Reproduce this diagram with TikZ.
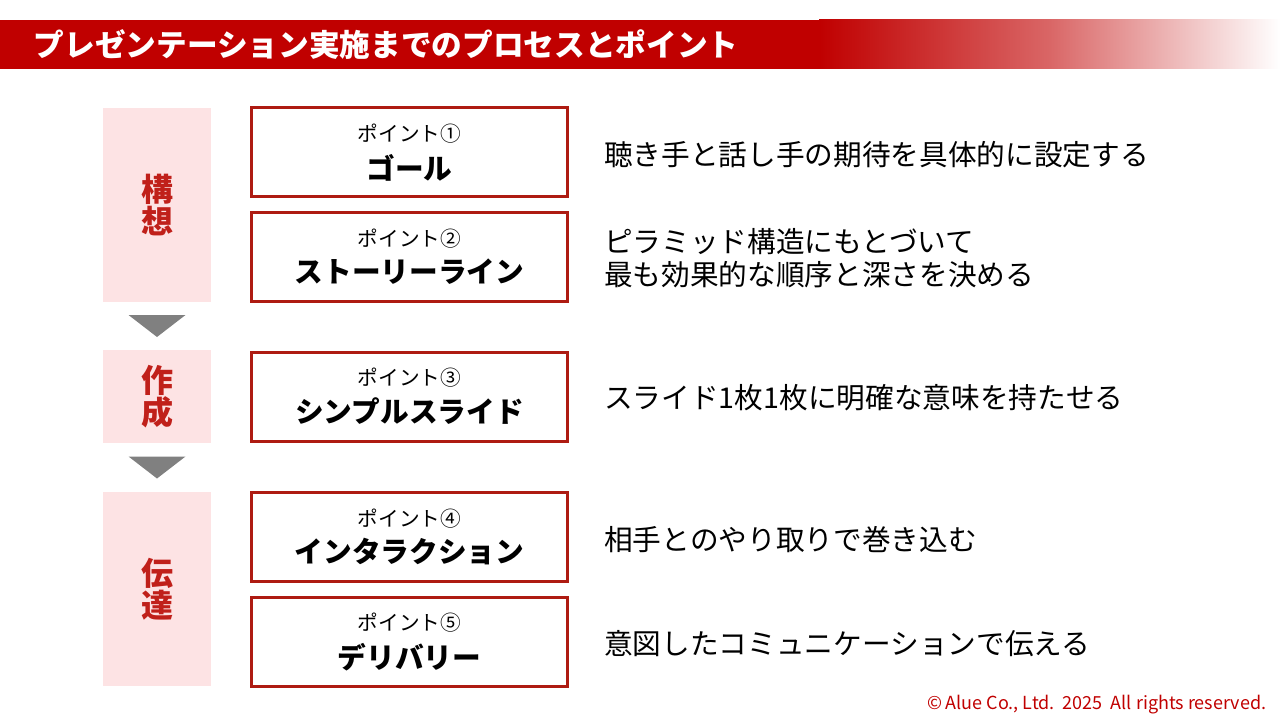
\documentclass[tikz,border=0pt]{standalone}
\usepackage{fontspec}
\setmainfont{Noto Sans CJK JP}
\usetikzlibrary{calc}
\definecolor{titlered}{HTML}{C00000}
\definecolor{phasepink}{HTML}{FDE3E4}
\definecolor{phasered}{HTML}{C0201A}
\definecolor{frame}{HTML}{AE1B12}
\definecolor{arrowgray}{HTML}{808080}
\newlength\pxu
\setlength\pxu{0.75pt}

\begin{document}
\begin{tikzpicture}[x=0.75pt,y=-0.75pt,
phasebox/.style={fill=phasepink,minimum width=108\pxu,text=phasered,
  font=\fontsize{24}{24}\selectfont\bfseries,align=center,inner sep=0pt},
pointbox/.style={draw=frame,line width=3\pxu,minimum width=316\pxu,
  minimum height=89\pxu,align=center,inner sep=0pt},
desc/.style={anchor=west,inner sep=0pt,align=left,
  font=\fontsize{21.5}{25}\selectfont}]
\useasboundingbox (0,0) rectangle (1280,720);
% Vẽ thanh tiêu đề
\fill[titlered] (0,20) rectangle (820,69);
\shade[left color=titlered,right color=white,middle color=titlered!60]
  (819,20) rectangle (1280,69);
\node[anchor=west,text=white,font=\fontsize{23}{23}\selectfont\bfseries]
  (title) at (29,45) {プレゼンテーション実施までのプロセスとポイント};
% Các giai đoạn
\node[phasebox,minimum height=194\pxu] (kousou) at (157,205) {構\\[0pt]想};
\node[phasebox,minimum height=93\pxu] (sakusei) at (157,396.5) {作\\[0pt]成};
\node[phasebox,minimum height=194\pxu] (dentatsu) at (157,589) {伝\\[0pt]達};
% Mũi tên tam giác
\foreach \a/\b in {kousou/sakusei,sakusei/dentatsu}
{
\coordinate (m) at ($(\a.south)!0.5!(\b.north)$);
\fill[arrowgray] ($(m)+(-28.5,-11)$) -- ($(m)+(28.5,-11)$) -- ($(m)+(0,11)$)
  -- cycle;
}
% Các điểm
\newcommand{\pointtext}[2]{{\fontsize{15.5}{15.5}\selectfont ポイント#1}\\[7pt]
  {\fontsize{21.5}{21.5}\selectfont\bfseries #2}}
\node[pointbox] (goal) at (409.5,152.5) {\pointtext{①}{ゴール}};
\node[pointbox] (story) at (409.5,257) {\pointtext{②}{ストーリーライン}};
\node[pointbox] (slide) at (409.5,396.5) {\pointtext{③}{シンプルスライド}};
\node[pointbox] (inter) at (409.5,537) {\pointtext{④}{インタラクション}};
\node[pointbox] (deliv) at (409.5,642) {\pointtext{⑤}{デリバリー}};
% Mô tả
\node[desc] (d1) at (604,155) {聴き手と話し手の期待を具体的に設定する};
\node[desc] (d2) at (604,258) {ピラミッド構造にもとづいて\\最も効果的な順序と深さを決める};
\node[desc] (d3) at (604,398) {スライド1枚1枚に明確な意味を持たせる};
\node[desc] (d4) at (604,540) {相手とのやり取りで巻き込む};
\node[desc] (d5) at (604,644) {意図したコミュニケーションで伝える};
% Bản quyền
\node[anchor=east,text=titlered,font=\fontsize{13.5}{13.5}\selectfont]
  (copy) at (1271,705) {©\,Alue Co., Ltd.\ \ 2025\ \ All rights reserved.};
\end{tikzpicture}
\end{document}
